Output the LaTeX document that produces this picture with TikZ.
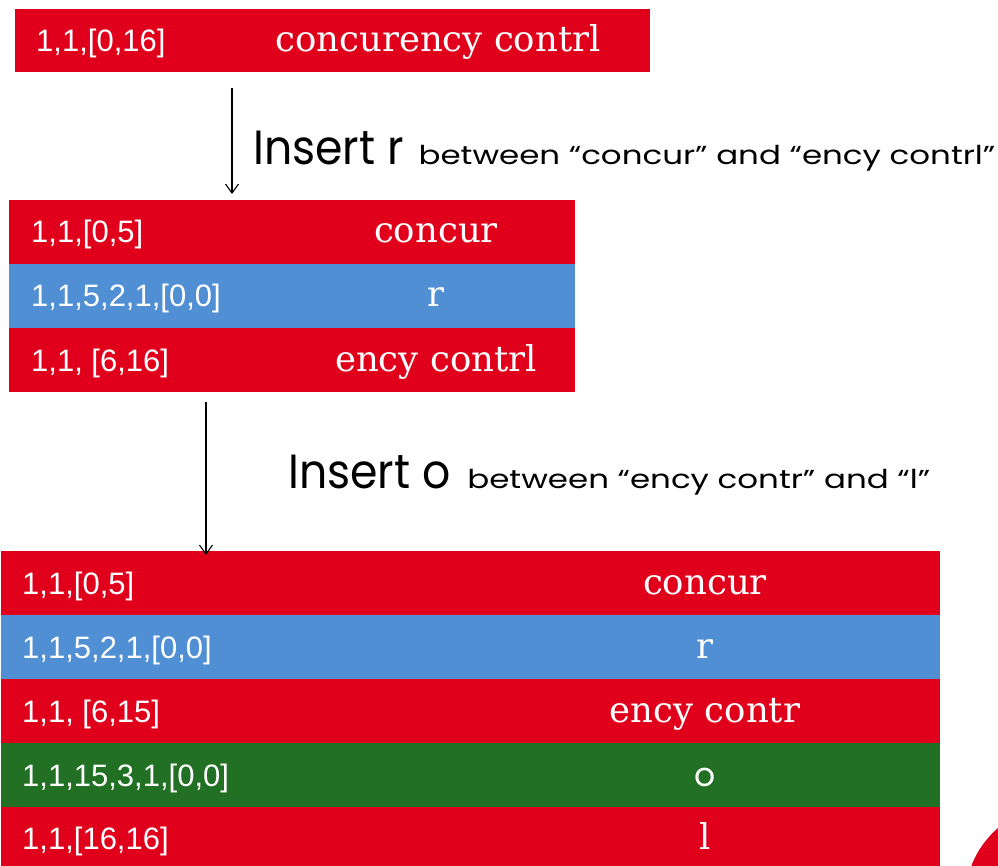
\documentclass[tikz,border=0pt]{standalone}
\usepackage{fontspec}
\usepackage{graphicx}
\setmainfont{DejaVu Serif}
\newfontfamily\numfont{Liberation Sans}
\newfontfamily\gothic{Poppins}
\usetikzlibrary{arrows.meta}
\definecolor{cred}{RGB}{224,0,27}
\definecolor{cblue}{RGB}{80,143,212}
\definecolor{cgreen}{RGB}{34,112,36}
\newcommand{\bigpart}[1]{\scalebox{0.92}[1]{\gothic\fontsize{48}{48}\selectfont #1}}
\newcommand{\smallpart}[1]{\scalebox{1.25}[1]{\gothic\fontsize{26}{26}\selectfont #1}}
\tikzset{
  bar/.style={inner sep=0pt, outer sep=0pt, anchor=north west, draw=none},
  num/.style={anchor=base west, inner sep=0pt, text=white, font=\numfont\fontsize{31}{31}\selectfont},
  word/.style={anchor=base, inner sep=0pt, text=white, font=\fontsize{35.5}{35.5}\selectfont},
  arr/.style={-{Straight Barb[length=9pt,width=13pt]}, line width=1.1pt},
  bigins/.style={anchor=base west, inner sep=0pt, text=black},
}
\begin{document}
\begin{tikzpicture}[x=1pt,y=-1pt]
\useasboundingbox (0,0) rectangle (998,866);
\begin{scope}
  \clip (0,0) rectangle (998,866);
  \fill[cred] (1060,900) circle (95);
\end{scope}

% top bar
\node[bar, fill=cred, minimum width=635pt, minimum height=63pt] (top) at (15,9) {};
\node[num] (t1) at (36,51.5) {1,1,[0,16]};
\node[word] (t2) at (438,51.5) {concurency contrl};

% first insertion
\coordinate (a1s) at (232,88);
\coordinate (a1e) at (232,194);
\draw[arr] (a1s) -- (a1e);
\node[bigins] (ins1) at (253,165) {\bigpart{Insert r}\hspace{15pt}\smallpart{between “concur” and “ency contrl”}};

% middle table
\node[bar, fill=cred, minimum width=566pt, minimum height=64pt] (m1) at (9,200) {};
\node[bar, fill=cblue, minimum width=566pt, minimum height=64pt] (m2) at (9,264) {};
\node[bar, fill=cred, minimum width=566pt, minimum height=64pt] (m3) at (9,328) {};
\node[num] (m1a) at (31,243) {1,1,[0,5]};
\node[word] (m1b) at (436,243) {concur};
\node[num] (m2a) at (31,307) {1,1,5,2,1,[0,0]};
\node[word] (m2b) at (436,307) {r};
\node[num] (m3a) at (31,371) {1,1, [6,16]};
\node[word] (m3b) at (436,371) {ency contrl};

% second insertion
\coordinate (a2s) at (206,402);
\coordinate (a2e) at (206,555);
\node[bigins] (ins2) at (288,488) {\bigpart{Insert o}\hspace{17pt}\smallpart{between “ency contr” and “l”}};

% bottom table
\node[bar, fill=cred, minimum width=939pt, minimum height=64pt] (b1) at (1,551) {};
\node[bar, fill=cblue, minimum width=939pt, minimum height=64pt] (b2) at (1,615) {};
\node[bar, fill=cred, minimum width=939pt, minimum height=64pt] (b3) at (1,679) {};
\node[bar, fill=cgreen, minimum width=939pt, minimum height=64pt] (b4) at (1,743) {};
\node[bar, fill=cred, minimum width=939pt, minimum height=59pt] (b5) at (1,807) {};
\draw[arr] (a2s) -- (a2e);
\node[num] (b1a) at (22,594) {1,1,[0,5]};
\node[word] (b1b) at (705,594) {concur};
\node[num] (b2a) at (22,658) {1,1,5,2,1,[0,0]};
\node[word] (b2b) at (705,658) {r};
\node[num] (b3a) at (22,722) {1,1, [6,15]};
\node[word] (b3b) at (705,722) {ency contr};
\node[num] (b4a) at (22,786) {1,1,15,3,1,[0,0]};
\node[word, font=\gothic\fontsize{33}{33}\selectfont] (b4b) at (705,786) {o};
\node[num] (b5a) at (22,849) {1,1,[16,16]};
\node[word] (b5b) at (705,849) {l};
\end{tikzpicture}
\end{document}
